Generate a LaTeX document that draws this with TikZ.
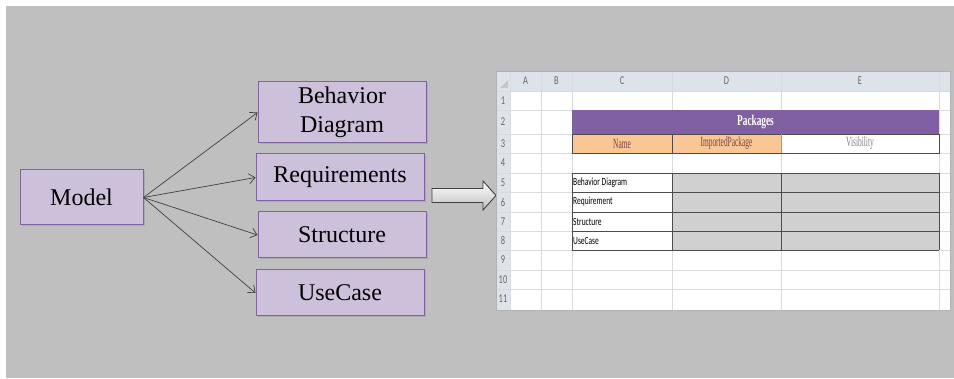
\documentclass[tikz,border=0pt]{standalone}
\usepackage{fontspec}
\setmainfont{Liberation Serif}
\newfontfamily\cellfont{Carlito}
\usepackage{graphicx}
\usetikzlibrary{arrows.meta,shadows}

\definecolor{bgGray}{RGB}{191,191,191}
\definecolor{boxFill}{RGB}{204,192,218}
\definecolor{boxLine}{RGB}{128,100,162}
\definecolor{hdrFill}{RGB}{222,227,233}
\definecolor{gridLine}{RGB}{216,219,223}
\definecolor{pkgFill}{RGB}{128,96,162}
\definecolor{peach}{RGB}{250,198,148}
\definecolor{cellGray}{RGB}{208,208,208}
\definecolor{nameText}{RGB}{115,70,70}

\newcommand{\squeeze}[2]{\scalebox{#1}[1]{#2}}

\begin{document}
\begin{tikzpicture}[x=1pt,y=-1pt,
    mbox/.style={draw=boxLine, line width=1pt, fill=boxFill, inner sep=0pt,
        align=center, font=\fontsize{24}{29}\selectfont,
        drop shadow={shadow xshift=1.5pt, shadow yshift=-1.5pt, opacity=0.3}},
    link/.style={draw=black!75, line width=0.7pt, -{Straight Barb[length=6pt,width=10pt]}},
    headtext/.style={font=\cellfont\fontsize{12}{12}\selectfont, text=black!60, inner sep=0pt},
    celltext/.style={font=\cellfont\fontsize{11}{11}\selectfont, inner sep=0pt},
    titletext/.style={font=\fontsize{14}{14}\selectfont, inner sep=0pt},
    cellborder/.style={draw=black!70, line width=0.9pt}]

    \useasboundingbox (0,0) rectangle (954,379);

    % Background
    \fill[bgGray] (6,6) rectangle (954,378);

    % Model and its parts
    \node[mbox, minimum width=123pt, minimum height=55pt] (model) at (81.5,197.5) {Model};
    \node[mbox, minimum width=168pt, minimum height=61pt] (behav) at (342,112.5) {Behavior\\Diagram};
    \node[mbox, minimum width=168pt, minimum height=47pt] (req) at (340,177.5) {Requirements};
    \node[mbox, minimum width=168pt, minimum height=46pt] (struc) at (342,235) {Structure};
    \node[mbox, minimum width=168pt, minimum height=46pt] (usecase) at (340,293) {UseCase};

    \foreach \n in {behav,req,struc,usecase}
        \draw[link] (model.east) -- (\n.west);

    % Block arrow
    \draw[black!75, line width=0.9pt, top color=white, bottom color=black!25]
        (432,188.5) -- (483,188.5) -- (483,181) -- (496,195.5) -- (483,210)
        -- (483,202.5) -- (432,202.5) -- cycle;

    % Sheet
    \fill[white] (496,71) rectangle (950,310);
    \fill[hdrFill] (496,71) rectangle (950,91);
    \fill[hdrFill] (496,91) rectangle (510,310);
    \foreach \y in {91,110,134,153,173,192,212,231,250,270,289}
        \draw[gridLine] (496,\y) -- (950,\y);
    \foreach \x in {510,541,572,672,781,939}
        \draw[gridLine] (\x,71) -- (\x,310);
    \draw[black!30] (496,71) rectangle (950,310);
    \fill[black!22] (508,80) -- (508,88) -- (500,88) -- cycle;

    % Column letters and row numbers
    \foreach \x/\c in {525.5/A, 556.5/B, 622/C, 726.5/D, 860/E}
        \node[headtext] (col\c) at (\x,81) {\squeeze{0.7}{\c}};
    \foreach \y/\r in {100.5/1, 122/2, 143.5/3, 163/4, 182.5/5, 202/6, 221.5/7, 240.5/8, 260/9, 279.5/10, 299/11}
        \node[headtext] (row\r) at (503,\y) {\squeeze{0.7}{\r}};

    % Packages table head
    \fill[pkgFill] (572,110) rectangle (939,134);
    \node[font=\bfseries\fontsize{15}{15}\selectfont, text=white, inner sep=0pt] (pkg) at (755.5,122) {\squeeze{0.62}{Packages}};
    \fill[peach] (572,134) rectangle (781,153);
    \draw[cellborder] (572,134) rectangle (939,153);
    \draw[cellborder] (672,134) -- (672,153);
    \draw[black!40] (781,134) -- (781,153);
    \node[titletext, text=nameText] (name) at (622,143.5) {\squeeze{0.53}{Name}};
    \node[titletext, text=nameText] (imported) at (726.5,143.5) {\squeeze{0.53}{ImportedPackage}};
    \node[titletext, text=black!50] (visib) at (860,143.5) {\squeeze{0.53}{Visibility}};

    % Packages rows
    \fill[cellGray] (672,173) rectangle (939,250);
    \foreach \y in {173,192,212,231,250}
        \draw[cellborder] (572,\y) -- (939,\y);
    \foreach \x in {572,672,781,939}
        \draw[cellborder] (\x,173) -- (\x,250);
    \foreach \y/\t/\n in {182.5/Behavior Diagram/pbehav, 202/Requirement/preq, 221.5/Structure/pstruc, 240.5/UseCase/pusecase}
        \node[celltext, anchor=west] (\n) at (573,\y) {\squeeze{0.68}{\t}};

\end{tikzpicture}
\end{document}
